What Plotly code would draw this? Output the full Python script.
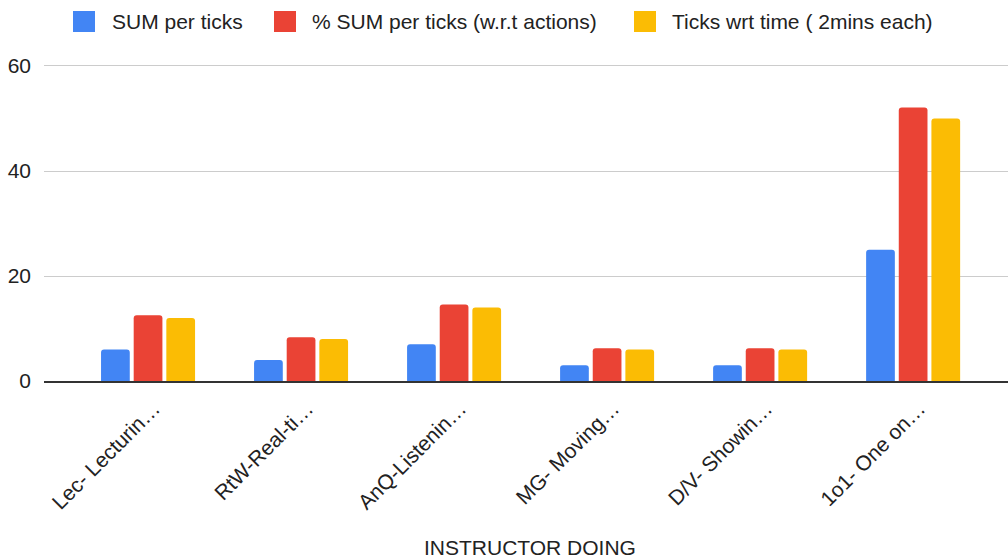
import plotly.graph_objects as go

# Instructor activity categories (labels truncated as displayed)
categories = ["Lec- Lecturin…", "RtW-Real-ti…", "AnQ-Listenin…",
              "MG- Moving…", "D/V- Showin…", "1o1- One on…"]

# Series values
sum_per_ticks = [6, 4, 7, 3, 3, 25]
pct_sum_per_ticks = [12.5, 8.33, 14.58, 6.25, 6.25, 52.08]
ticks_wrt_time = [12, 8, 14, 6, 6, 50]

series_names = ["SUM per ticks", "% SUM per ticks (w.r.t actions)",
                "Ticks wrt time ( 2mins each)"]
series_values = [sum_per_ticks, pct_sum_per_ticks, ticks_wrt_time]
colors = ["#4285F4", "#EA4335", "#FBBC04"]

y_ticks = [0, 20, 40, 60]

W, H = 1008, 559
M_L, M_R, M_T, M_B = 44, 0, 63, 178
PW, PH = W - M_L - M_R, H - M_T - M_B
FONT = "Liberation Sans, Arial, sans-serif"
TEXT = "#222222"


def px_x(px):
    return (px - M_L) / PW


def px_y(py):
    return (H - M_B - py) / PH


fig = go.Figure()
for name, vals, col in zip(series_names, series_values, colors):
    fig.add_trace(go.Bar(x=categories, y=vals, name=name, marker_color=col,
                         marker_line_width=0, showlegend=False))

# Legend row across the top
legend_items = [(73, 110), (274, 310), (634, 670)]
shapes = []
annotations = []
for (sq_x, tx_x), name, col in zip(legend_items, series_names, colors):
    shapes.append(dict(type="rect", xref="paper", yref="paper",
                       x0=px_x(sq_x), x1=px_x(sq_x + 22),
                       y0=px_y(32), y1=px_y(11),
                       fillcolor=col, line=dict(width=0), layer="above"))
    annotations.append(dict(text=name, xref="paper", yref="paper",
                            x=px_x(tx_x), y=px_y(21.5), xanchor="left",
                            yanchor="middle", showarrow=False,
                            font=dict(size=21, color=TEXT, family=FONT)))

annotations.append(dict(text="INSTRUCTOR DOING", xref="paper", yref="paper",
                        x=px_x(530), y=px_y(547), xanchor="center",
                        yanchor="middle", showarrow=False,
                        font=dict(size=21, color=TEXT, family=FONT)))

fig.update_layout(
    width=W, height=H,
    margin=dict(l=M_L, r=M_R, t=M_T, b=M_B, pad=0),
    paper_bgcolor="white", plot_bgcolor="white",
    barmode="group", bargap=0.36, bargroupgap=0.12, barcornerradius=3,
    font=dict(family=FONT, size=21, color=TEXT),
    shapes=shapes, annotations=annotations,
    xaxis=dict(range=[-0.68, 5.62], tickangle=-45, showgrid=False,
               ticks="", showline=True, linecolor="#333333", linewidth=2,
               ticklabelstandoff=5, ticklabelshift=6,
               tickfont=dict(size=21, color=TEXT), zeroline=False),
    yaxis=dict(range=[0, 60.57], tickvals=y_ticks, showgrid=True,
               gridcolor="#cccccc", gridwidth=1, zeroline=False,
               ticks="", ticklabelstandoff=12,
               tickfont=dict(size=21, color=TEXT)),
)

fig.write_html("out.html")
